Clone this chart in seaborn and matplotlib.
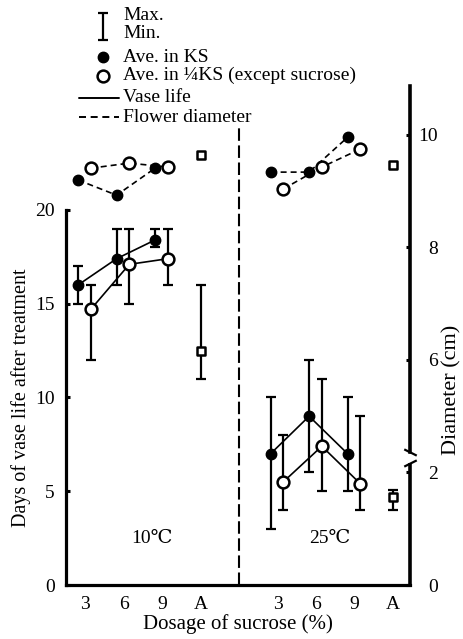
import numpy as np
import pandas as pd
import matplotlib
matplotlib.use("Agg")
import matplotlib.pyplot as plt
import matplotlib.transforms as mtransforms
import seaborn as sns

# ---------------- data ----------------
doses = ["3", "6", "9", "A"]
temps = ["10℃", "25℃"]

# vase life (days) : average, min, max
vl_ks_10 = [16.0, 17.4, 18.4]
vl_ks_10_min = [15.0, 16.0, 18.0]
vl_ks_10_max = [17.0, 19.0, 19.0]
vl_q_10 = [14.7, 17.1, 17.4]
vl_q_10_min = [12.0, 15.0, 16.0]
vl_q_10_max = [16.0, 19.0, 19.0]
vl_ctrl_10 = [12.5]
vl_ctrl_10_min = [11.0]
vl_ctrl_10_max = [16.0]

vl_ks_25 = [7.0, 9.0, 7.0]
vl_ks_25_min = [3.0, 6.0, 5.0]
vl_ks_25_max = [10.0, 12.0, 10.0]
vl_q_25 = [5.5, 7.4, 5.4]
vl_q_25_min = [4.0, 5.0, 4.0]
vl_q_25_max = [8.0, 11.0, 9.0]
vl_ctrl_25 = [4.7]
vl_ctrl_25_min = [4.0]
vl_ctrl_25_max = [5.05]

# flower diameter (cm)
diam_ks_10 = [9.20, 8.93, 9.41]
diam_q_10 = [9.41, 9.50, 9.43]
diam_ctrl_10 = [9.64]
diam_ks_25 = [9.34, 9.34, 9.96]
diam_q_25 = [9.04, 9.43, 9.75]
diam_ctrl_25 = [9.47]

right_ticks = [0, 2, 6, 8, 10]
left_ticks = [0, 5, 10, 15, 20]

# ---------------- layout helpers ----------------
W, H = 464, 639
group_pos = {"10℃": [0, 1, 2, 3], "25℃": [5, 6, 7, 8]}
dodge = {"KS": -0.18, "Q": 0.15}

SERIF = ["Liberation Serif", "DejaVu Serif", "DejaVu Sans"]

sns.set_theme(style="white")
plt.rcParams["font.family"] = SERIF
plt.rcParams["axes.unicode_minus"] = False

fig = plt.figure(figsize=(W / 100, H / 100), dpi=100)
ax = fig.add_axes([66 / W, 1 - 585 / H, 344 / W, 499 / H])
ax.set_facecolor("none")
ax.set_xlim(-0.494, 8.44)
ax.set_ylim(0, 26.61)


def fwd(d):
    d = np.asarray(d, dtype=float)
    return np.where(d <= 2, d, np.where(d < 6, 2 + (d - 2) * 0.5, d - 2))


def inv(t):
    t = np.asarray(t, dtype=float)
    return np.where(t <= 2, t, np.where(t < 4, 2 + (t - 2) * 2, t + 2))


ax2 = ax.twinx()
ax2.set_yscale("function", functions=(fwd, inv))
ax2.set_ylim(0, 10.871)

# ---------------- build tidy frame ----------------
rows = []
series = {
    ("10℃", "KS"): (vl_ks_10, vl_ks_10_min, vl_ks_10_max, diam_ks_10),
    ("10℃", "Q"): (vl_q_10, vl_q_10_min, vl_q_10_max, diam_q_10),
    ("25℃", "KS"): (vl_ks_25, vl_ks_25_min, vl_ks_25_max, diam_ks_25),
    ("25℃", "Q"): (vl_q_25, vl_q_25_min, vl_q_25_max, diam_q_25),
}
for (t, s), (v, vmin, vmax, dm) in series.items():
    for i in range(3):
        rows.append(dict(temp=t, sol=s, dose=doses[i],
                         x=group_pos[t][i] + dodge[s],
                         vase=v[i], vmin=vmin[i], vmax=vmax[i], diam=dm[i]))
df = pd.DataFrame(rows)

ctrl = pd.DataFrame(dict(
    temp=temps,
    x=[group_pos["10℃"][3], group_pos["25℃"][3]],
    vase=vl_ctrl_10 + vl_ctrl_25,
    vmin=vl_ctrl_10_min + vl_ctrl_25_min,
    vmax=vl_ctrl_10_max + vl_ctrl_25_max,
    diam=diam_ctrl_10 + diam_ctrl_25,
))

mstyle = {
    "KS": dict(marker="o", markersize=7.5, markerfacecolor="black",
               markeredgecolor="black", markeredgewidth=1.0),
    "Q": dict(marker="o", markersize=8.5, markerfacecolor="white",
              markeredgecolor="black", markeredgewidth=1.8),
}
dash = (0, (3.6, 2.4))

for (t, s), sub in df.groupby(["temp", "sol"]):
    ax.errorbar(sub["x"], sub["vase"],
                yerr=[sub["vase"] - sub["vmin"], sub["vmax"] - sub["vase"]],
                fmt="none", ecolor="black", elinewidth=1.6, capsize=3.8,
                capthick=1.6, zorder=2)
    sns.lineplot(data=sub, x="x", y="vase", ax=ax, color="black",
                 linewidth=1.2, zorder=3, legend=False, **mstyle[s])
    sns.lineplot(data=sub, x="x", y="diam", ax=ax2, color="black",
                 linewidth=1.2, linestyle=dash, zorder=3, legend=False,
                 **mstyle[s])

# control (A)
ax.errorbar(ctrl["x"], ctrl["vase"],
            yerr=[ctrl["vase"] - ctrl["vmin"], ctrl["vmax"] - ctrl["vase"]],
            fmt="none", ecolor="black", elinewidth=1.6, capsize=3.8,
            capthick=1.6, zorder=2)
sns.scatterplot(data=ctrl, x="x", y="vase", ax=ax, marker="s", s=30,
                facecolor="white", edgecolor="black", linewidth=1.8,
                zorder=4, legend=False)
sns.scatterplot(data=ctrl, x="x", y="diam", ax=ax2, marker="s", s=30,
                facecolor="white", edgecolor="black", linewidth=1.8,
                zorder=4, legend=False)

# divider between temperatures
ax.axvline(4, ymin=0, ymax=(585 - 127) / 499, color="black", lw=1.5,
           ls=(0, (6, 2.2)), zorder=1)

# temperature labels
ax.text(1.74, 2.5, temps[0], ha="center", va="center", fontsize=14,
        family=SERIF, color="black")
ax.text(6.36, 2.5, temps[1], ha="center", va="center", fontsize=14,
        family=SERIF, color="black")

# ---------------- axes styling ----------------
for sp in ["top", "right"]:
    ax.spines[sp].set_visible(False)
for sp in ["top", "left", "bottom"]:
    ax2.spines[sp].set_visible(False)
ax.spines["left"].set_bounds(0, 20)
ax.spines["left"].set_linewidth(2.3)
ax.spines["bottom"].set_linewidth(2.3)
for sp in ["left", "bottom"]:
    ax.spines[sp].set_color("black")

ax.set_yticks(left_ticks)
ax.set_yticklabels([str(v) for v in left_ticks])
ax.set_xticks(group_pos["10℃"] + group_pos["25℃"])
ax.set_xticklabels(doses + doses)
ax.tick_params(axis="y", direction="in", length=3, width=2.2, pad=8,
               labelsize=14, colors="black")
ax.tick_params(axis="x", length=0, pad=8, labelsize=14, colors="black")
for lbl in ax.get_xticklabels() + ax.get_yticklabels():
    lbl.set_family(SERIF)

ax.set_xlabel("Dosage of sucrose (%)", fontsize=15, family=SERIF,
              color="black", labelpad=1)
ax.set_ylabel("Days of vase life after treatment", fontsize=14.5,
              family=SERIF, color="black", va="center")
ax.yaxis.set_label_coords(-0.131, 0.375)

# right axis (broken)
ax2.spines["right"].set_bounds(2.72, 10.871)
ax2.spines["right"].set_linewidth(2.6)
ax2.spines["right"].set_color("black")
blend = mtransforms.blended_transform_factory(ax2.transAxes, ax2.transData)
ax2.plot([1, 1], [0, 2.34], transform=blend, color="black", lw=2.6,
         clip_on=False, solid_capstyle="butt")
ax2.plot([1], [2.72], transform=blend, marker=[(-1, 0.5), (1, -0.5)],
         markersize=9, markeredgewidth=1.6, color="black", clip_on=False,
         linestyle="none")
ax2.plot([1], [2.34], transform=blend, marker=[(-1, -0.5), (1, 0.5)],
         markersize=9, markeredgewidth=1.6, color="black", clip_on=False,
         linestyle="none")
ax2.set_yticks(right_ticks)
ax2.set_yticklabels([str(v) for v in right_ticks])
ax2.yaxis.set_minor_locator(matplotlib.ticker.NullLocator())
ax2.tick_params(axis="y", direction="in", length=3, width=2.2, pad=20,
                labelsize=14, colors="black")
for lbl in ax2.get_yticklabels():
    lbl.set_family(SERIF)
    lbl.set_ha("right")
ax2.set_ylabel("Diameter (cm)", fontsize=16, family=SERIF, color="black",
               va="center")
ax2.yaxis.set_label_coords(1.122, 0.391)
ax2.set_xlim(ax.get_xlim())

# ---------------- hand-made legend ----------------
ov = fig.add_axes([0, 0, 1, 1], facecolor="none")
ov.set_xlim(0, W)
ov.set_ylim(H, 0)
ov.axis("off")
ov.errorbar([103], [26.5], yerr=[[13.5], [13.5]], fmt="none", ecolor="black",
            elinewidth=1.6, capsize=3.8, capthick=1.6)
ov.plot([103], [57], linestyle="none", **mstyle["KS"])
ov.plot([103], [76], linestyle="none", **mstyle["Q"])
ov.plot([79, 119], [98, 98], color="black", lw=1.4)
ov.plot([79, 119], [117, 117], color="black", lw=1.4, ls=dash)
leg_fs = 14
for y, txt in [(16, "Max."), (33, "Min."), (57, "Ave. in KS"),
               (75, "Ave. in ¼KS (except sucrose)"), (98, "Vase life"),
               (117, "Flower diameter")]:
    ov.text(123, y, txt, ha="left", va="center", fontsize=leg_fs,
            family=SERIF, color="black")

fig.savefig("out.png", dpi=100, facecolor="white")
